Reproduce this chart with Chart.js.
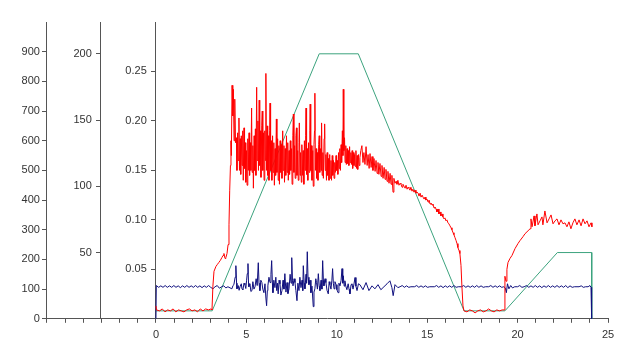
<!DOCTYPE html>
<html>
<head>
<meta charset="utf-8">
<script src="https://cdn.jsdelivr.net/npm/chart.js@4.4.0/dist/chart.umd.min.js"></script>
<style>
    body { margin: 0; background: #fff; }
    #wrap { width: 625px; height: 347px; }
</style>
</head>
<body>
<div id="wrap"><canvas id="myChart"></canvas></div>
<script>
// red trace, inner axis (0 - 0.3)
const redData = [
    [0, 0.013], [0.03, 0.009], [0.2, 0.008], [0.35, 0.010], [0.5, 0.007], [0.65, 0.009], [0.8, 0.008], [0.95, 0.010],
    [1.1, 0.007], [1.25, 0.009], [1.4, 0.008], [1.55, 0.007], [1.7, 0.009], [1.85, 0.010], [2.0, 0.008], [2.15, 0.009],
    [2.3, 0.007], [2.45, 0.010], [2.6, 0.008], [2.75, 0.010], [2.9, 0.009], [3.05, 0.010], [3.1, 0.009],
    [3.15, 0.033], [3.21, 0.048], [3.32, 0.053], [3.40, 0.055], [3.48, 0.057], [3.56, 0.059], [3.65, 0.062], [3.71, 0.064],
    [3.76, 0.066], [3.82, 0.061], [3.87, 0.062], [3.93, 0.066], [3.99, 0.075], [4.04, 0.095], [4.08, 0.130], [4.12, 0.155],
    [4.15, 0.180], [4.17, 0.165], [4.21, 0.236], [4.25, 0.205], [4.28, 0.232], [4.32, 0.180], [4.36, 0.222], [4.40, 0.178],
    [4.45, 0.183], [4.48, 0.150], [4.52, 0.188], [4.55, 0.160], [4.59, 0.203], [4.62, 0.150], [4.66, 0.182], [4.69, 0.146],
    [4.72, 0.185], [4.76, 0.155], [4.80, 0.190], [4.83, 0.140], [4.87, 0.193], [4.90, 0.152], [4.94, 0.178], [4.97, 0.138],
    [5.01, 0.170], [5.04, 0.135], [5.08, 0.182], [5.11, 0.150], [5.15, 0.188], [5.18, 0.145], [5.22, 0.178], [5.25, 0.150],
    [5.29, 0.213], [5.32, 0.148], [5.36, 0.175], [5.39, 0.132], [5.43, 0.185], [5.46, 0.150], [5.50, 0.192], [5.53, 0.145],
    [5.57, 0.234], [5.60, 0.160], [5.64, 0.200], [5.67, 0.150], [5.71, 0.221], [5.74, 0.155], [5.78, 0.190], [5.81, 0.143],
    [5.85, 0.195], [5.88, 0.210], [5.91, 0.150], [5.95, 0.188], [5.98, 0.140], [6.02, 0.190], [6.05, 0.160], [6.08, 0.248],
    [6.11, 0.150], [6.15, 0.195], [6.18, 0.145], [6.22, 0.185], [6.25, 0.140], [6.29, 0.190], [6.31, 0.218], [6.34, 0.150],
    [6.38, 0.180], [6.41, 0.140], [6.45, 0.185], [6.48, 0.148], [6.52, 0.178], [6.55, 0.135], [6.59, 0.172], [6.62, 0.145],
    [6.66, 0.202], [6.69, 0.148], [6.73, 0.182], [6.76, 0.140], [6.80, 0.175], [6.83, 0.136], [6.87, 0.180], [6.90, 0.148],
    [6.94, 0.176], [6.97, 0.142], [7.01, 0.190], [7.04, 0.150], [7.08, 0.175], [7.11, 0.138], [7.15, 0.172], [7.18, 0.145],
    [7.22, 0.185], [7.25, 0.148], [7.29, 0.178], [7.32, 0.140], [7.36, 0.170], [7.39, 0.146], [7.43, 0.180], [7.46, 0.150],
    [7.50, 0.172], [7.53, 0.136], [7.57, 0.185], [7.60, 0.207], [7.63, 0.148], [7.67, 0.175], [7.70, 0.142], [7.74, 0.185],
    [7.77, 0.193], [7.80, 0.145], [7.84, 0.170], [7.87, 0.140], [7.91, 0.178], [7.93, 0.198], [7.97, 0.145], [8.00, 0.168],
    [8.04, 0.138], [8.07, 0.176], [8.11, 0.145], [8.14, 0.170], [8.18, 0.136], [8.21, 0.180], [8.25, 0.150], [8.28, 0.185],
    [8.30, 0.213], [8.33, 0.146], [8.37, 0.172], [8.40, 0.140], [8.44, 0.178], [8.47, 0.148], [8.51, 0.190], [8.53, 0.217],
    [8.56, 0.150], [8.60, 0.175], [8.63, 0.140], [8.67, 0.170], [8.70, 0.134], [8.74, 0.176], [8.77, 0.190], [8.79, 0.228],
    [8.82, 0.150], [8.86, 0.172], [8.89, 0.142], [8.93, 0.168], [8.96, 0.140], [9.00, 0.176], [9.03, 0.185], [9.06, 0.148],
    [9.10, 0.172], [9.13, 0.150], [9.16, 0.198], [9.19, 0.145], [9.23, 0.168], [9.26, 0.142], [9.30, 0.182], [9.33, 0.197],
    [9.36, 0.150], [9.40, 0.166], [9.43, 0.140], [9.47, 0.168], [9.50, 0.145], [9.54, 0.162], [9.57, 0.140], [9.61, 0.166],
    [9.64, 0.142], [9.68, 0.160], [9.71, 0.140], [9.75, 0.165], [9.78, 0.145], [9.82, 0.160], [9.85, 0.142], [9.89, 0.158],
    [9.92, 0.148], [9.96, 0.165], [9.99, 0.150], [10.03, 0.160], [10.06, 0.146], [10.10, 0.168], [10.13, 0.152], [10.17, 0.172],
    [10.20, 0.150], [10.24, 0.176], [10.27, 0.158], [10.31, 0.190], [10.34, 0.165], [10.36, 0.232], [10.39, 0.170], [10.43, 0.183],
    [10.46, 0.158], [10.50, 0.175], [10.53, 0.156], [10.57, 0.172], [10.60, 0.157], [10.64, 0.170], [10.67, 0.155], [10.71, 0.174],
    [10.74, 0.158], [10.78, 0.168], [10.81, 0.156], [10.85, 0.170], [10.88, 0.152], [10.92, 0.168], [10.95, 0.155], [10.99, 0.166],
    [11.02, 0.154], [11.06, 0.170], [11.09, 0.152], [11.13, 0.165], [11.16, 0.151], [11.20, 0.166], [11.24, 0.155], [11.28, 0.163],
    [11.33, 0.170], [11.39, 0.175], [11.45, 0.158], [11.50, 0.168], [11.56, 0.156], [11.62, 0.174], [11.68, 0.155], [11.73, 0.166],
    [11.79, 0.152], [11.84, 0.167], [11.90, 0.153], [11.95, 0.164], [12.00, 0.150], [12.06, 0.162], [12.12, 0.149], [12.17, 0.160],
    [12.23, 0.147], [12.28, 0.158], [12.33, 0.146], [12.39, 0.157], [12.45, 0.144], [12.50, 0.155], [12.56, 0.142], [12.62, 0.153],
    [12.67, 0.141], [12.72, 0.151], [12.78, 0.139], [12.83, 0.149], [12.89, 0.137], [12.95, 0.147], [13.00, 0.136], [13.05, 0.145],
    [13.11, 0.128], [13.16, 0.142], [13.22, 0.137], [13.28, 0.139], [13.33, 0.136], [13.38, 0.140], [13.44, 0.135], [13.50, 0.137],
    [13.55, 0.136], [13.61, 0.133], [13.66, 0.136], [13.72, 0.134], [13.78, 0.132], [13.83, 0.135], [13.89, 0.131], [13.94, 0.133],
    [13.99, 0.132], [14.05, 0.130], [14.10, 0.133], [14.16, 0.129], [14.21, 0.131], [14.27, 0.128], [14.33, 0.130], [14.38, 0.127],
    [14.44, 0.128], [14.50, 0.127], [14.55, 0.124], [14.61, 0.127], [14.66, 0.123], [14.72, 0.125], [14.77, 0.123], [14.83, 0.121],
    [14.88, 0.123], [14.93, 0.120], [14.99, 0.121], [15.05, 0.118], [15.10, 0.120], [15.16, 0.116], [15.21, 0.117], [15.27, 0.115],
    [15.32, 0.116], [15.38, 0.112], [15.43, 0.113], [15.49, 0.111], [15.54, 0.108], [15.60, 0.111], [15.65, 0.106], [15.71, 0.108],
    [15.76, 0.104], [15.82, 0.106], [15.87, 0.103], [15.93, 0.101], [15.98, 0.102], [16.04, 0.099], [16.09, 0.100], [16.15, 0.097],
    [16.20, 0.096], [16.26, 0.094], [16.32, 0.092], [16.37, 0.090], [16.43, 0.087], [16.48, 0.085], [16.54, 0.082], [16.60, 0.079],
    [16.65, 0.076], [16.70, 0.072], [16.76, 0.069], [16.81, 0.066], [16.87, 0.054], [16.92, 0.033], [16.98, 0.013], [17.04, 0.008],
    [17.2, 0.007], [17.35, 0.009], [17.5, 0.008], [17.65, 0.006], [17.8, 0.008], [17.95, 0.009], [18.1, 0.007], [18.25, 0.008],
    [18.4, 0.010], [18.55, 0.008], [18.7, 0.007], [18.85, 0.009], [19.0, 0.008], [19.15, 0.009], [19.28, 0.009],
    [19.30, 0.043], [19.36, 0.038], [19.41, 0.050], [19.47, 0.057], [19.58, 0.061], [19.69, 0.064], [19.86, 0.071], [20.02, 0.076],
    [20.13, 0.079], [20.30, 0.083], [20.41, 0.086], [20.58, 0.089], [20.69, 0.091], [20.74, 0.101], [20.80, 0.093], [20.91, 0.104],
    [20.96, 0.094], [21.07, 0.106], [21.13, 0.095], [21.24, 0.099], [21.35, 0.103], [21.40, 0.095], [21.51, 0.109], [21.63, 0.097],
    [21.74, 0.101], [21.85, 0.105], [21.96, 0.096], [22.07, 0.099], [22.18, 0.101], [22.29, 0.095], [22.40, 0.100], [22.51, 0.096],
    [22.62, 0.097], [22.73, 0.093], [22.84, 0.098], [22.95, 0.091], [23.06, 0.097], [23.17, 0.101], [23.28, 0.095], [23.40, 0.100],
    [23.51, 0.094], [23.62, 0.101], [23.73, 0.096], [23.84, 0.099], [23.95, 0.093], [24.06, 0.097], [24.11, 0.093]
];

// dark blue trace, outer axis (0 - 1000)
const blueData = [
    [0, 0], [0.02, 112], [0.15, 106], [0.27, 111], [0.39, 106], [0.51, 112], [0.63, 106], [0.75, 111], [0.87, 106],
    [0.99, 112], [1.11, 106], [1.23, 111], [1.35, 105], [1.47, 111], [1.59, 106], [1.71, 112], [1.83, 106], [1.95, 111],
    [2.07, 106], [2.19, 112], [2.31, 106], [2.43, 111], [2.55, 105], [2.67, 111], [2.79, 106], [2.91, 112], [3.03, 106],
    [3.15, 101], [3.27, 108], [3.39, 112], [3.51, 103], [3.63, 108], [3.75, 111], [3.87, 104], [3.98, 108],
    [4.20, 101], [4.26, 112], [4.31, 115], [4.38, 140], [4.42, 179], [4.46, 120], [4.48, 101], [4.55, 112], [4.60, 96],
    [4.65, 108], [4.72, 118], [4.76, 100], [4.81, 98], [4.87, 120], [4.92, 115], [4.97, 102], [5.01, 128], [5.05, 152],
    [5.09, 186], [5.12, 120], [5.14, 108], [5.20, 118], [5.25, 92], [5.31, 95], [5.36, 125], [5.42, 100], [5.48, 108],
    [5.54, 135], [5.60, 112], [5.66, 189], [5.70, 120], [5.75, 95], [5.80, 130], [5.86, 122], [5.91, 100], [5.97, 88],
    [6.03, 118], [6.08, 70], [6.12, 44], [6.16, 95], [6.19, 111], [6.25, 140], [6.31, 122], [6.36, 150], [6.40, 196],
    [6.44, 120], [6.47, 88], [6.52, 130], [6.58, 105], [6.63, 140], [6.68, 95], [6.72, 120], [6.76, 84], [6.81, 130],
    [6.86, 118], [6.91, 80], [6.97, 95], [7.03, 130], [7.08, 100], [7.13, 152], [7.19, 90], [7.25, 122], [7.30, 85],
    [7.36, 101], [7.42, 150], [7.47, 120], [7.51, 206], [7.55, 130], [7.58, 111], [7.64, 135], [7.69, 122], [7.74, 95],
    [7.80, 61], [7.85, 120], [7.91, 95], [7.96, 140], [8.02, 105], [8.08, 130], [8.12, 95], [8.15, 179], [8.20, 120],
    [8.24, 101], [8.30, 150], [8.33, 120], [8.37, 226], [8.41, 140], [8.46, 115], [8.52, 130], [8.57, 88], [8.63, 110],
    [8.70, 41], [8.74, 90], [8.79, 101], [8.84, 135], [8.88, 122], [8.93, 100], [8.98, 152], [9.03, 110], [9.07, 95],
    [9.13, 130], [9.18, 100], [9.22, 196], [9.26, 130], [9.29, 111], [9.35, 135], [9.40, 122], [9.46, 96], [9.53, 84],
    [9.58, 125], [9.62, 115], [9.68, 100], [9.73, 130], [9.77, 169], [9.81, 120], [9.85, 101], [9.90, 125], [9.96, 115],
    [10.01, 98], [10.07, 88], [10.12, 120], [10.18, 111], [10.24, 130], [10.29, 169], [10.33, 120], [10.36, 145],
    [10.41, 110], [10.45, 128], [10.50, 110], [10.56, 98], [10.63, 118], [10.68, 100], [10.73, 84], [10.79, 115],
    [10.84, 118], [10.90, 100], [10.96, 120], [11.01, 139], [11.06, 110], [11.12, 95], [11.20, 118], [11.28, 115],
    [11.45, 98], [11.62, 122], [11.78, 95], [11.95, 111], [12.11, 101], [12.28, 115], [12.44, 98],
    [12.61, 108], [12.78, 118], [12.94, 128], [13.05, 105], [13.12, 78], [13.22, 115], [13.38, 105],
    [13.5, 108], [13.62, 112], [13.74, 106], [13.86, 111], [13.98, 106], [14.1, 108], [14.3, 108], [14.42, 112],
    [14.54, 106], [14.66, 111], [14.78, 106], [14.9, 111], [15.02, 106], [15.14, 108], [15.4, 108], [15.52, 112],
    [15.64, 106], [15.76, 111], [15.88, 105], [16.0, 111], [16.12, 106], [16.24, 111], [16.36, 106], [16.48, 112],
    [16.6, 106], [16.72, 108], [16.9, 108], [17.02, 112], [17.14, 106], [17.26, 111], [17.38, 106], [17.5, 111],
    [17.62, 106], [17.74, 112], [17.86, 106], [17.98, 111], [18.1, 106], [18.22, 108], [18.4, 108], [18.52, 112],
    [18.64, 106], [18.76, 111], [18.88, 106], [19.0, 111], [19.12, 106], [19.24, 108], [19.32, 104], [19.38, 88],
    [19.44, 118], [19.52, 101], [19.62, 112], [19.72, 104], [19.84, 108], [20.0, 108], [20.12, 112], [20.24, 106],
    [20.36, 108], [20.5, 112], [20.62, 106], [20.74, 111], [20.86, 106], [20.98, 112], [21.1, 106], [21.22, 111],
    [21.34, 105], [21.46, 111], [21.58, 106], [21.7, 112], [21.82, 106], [21.94, 111], [22.06, 106], [22.18, 112],
    [22.3, 106], [22.42, 111], [22.54, 106], [22.66, 112], [22.78, 105], [22.9, 111], [23.02, 106], [23.14, 108],
    [23.4, 108], [23.52, 111], [23.64, 106], [23.76, 108], [23.9, 108], [24.0, 112], [24.06, 106], [24.09, 104], [24.1, 0]
];

// green ramp, middle axis (0 - 200)
const greenData = [
    [0, 6], [3.11, 6], [9.03, 200], [11.19, 200], [17.04, 6], [19.30, 6], [22.2, 50], [24.1, 50], [24.1, 0]
];

const outerTicks = [0, 100, 200, 300, 400, 500, 600, 700, 800, 900];
const middleTicks = [50, 100, 150, 200];
const innerTicks = [0.05, 0.10, 0.15, 0.20, 0.25];
const xLabels = [0, 5, 10, 15, 20, 25];

const axisColor = '#555';
const font = {family: 'Liberation Sans, Arial, sans-serif', size: 11};

// labels of axes placed at a data position are drawn flush with the line,
// so a few trailing spaces give the gap seen in the original
function yAxis(atX, max, keep, fmt) {
    return {
        type: 'linear',
        axis: 'y',
        position: {x: atX},
        min: 0,
        max: max,
        border: {color: axisColor},
        grid: {drawOnChartArea: false, tickLength: 4, color: axisColor, tickColor: axisColor},
        ticks: {color: '#333', font: font, callback: fmt},
        afterBuildTicks: function (scale) {
            scale.ticks = keep.map(v => ({value: v}));
        }
    };
}

new Chart(document.getElementById('myChart').getContext('2d'), {
    type: 'line',
    data: {
        datasets: [
            {label: 'red', data: redData, yAxisID: 'y3', borderColor: '#ff0000', borderWidth: 1, pointRadius: 0, tension: 0},
            {label: 'blue', data: blueData, yAxisID: 'y', borderColor: '#10107e', borderWidth: 1, pointRadius: 0, tension: 0},
            {label: 'green', data: greenData, yAxisID: 'y2', borderColor: '#3ca37e', borderWidth: 1, pointRadius: 0, tension: 0}
        ]
    },
    options: {
        responsive: true,
        maintainAspectRatio: false,
        animation: false,
        layout: {padding: {left: 46, right: 17, top: 22, bottom: -1}},
        plugins: {legend: {display: false}, tooltip: {enabled: false}},
        scales: {
            x: {
                type: 'linear',
                min: -6.08,
                max: 25,
                border: {color: axisColor},
                grid: {drawOnChartArea: false, tickLength: 4, color: axisColor, tickColor: axisColor},
                ticks: {
                    stepSize: 1, autoSkip: false, maxRotation: 0, padding: 6, color: '#333', font: font,
                    callback: v => xLabels.includes(v) ? v : ''
                }
            },
            y: yAxis(-6.08, 1000, outerTicks, v => v + '  '),
            y2: yAxis(-3.04, 224, middleTicks, v => v + '   '),
            y3: yAxis(0, 0.3, innerTicks, v => v.toFixed(2) + '   ')
        }
    }
});
</script>
</body>
</html>
